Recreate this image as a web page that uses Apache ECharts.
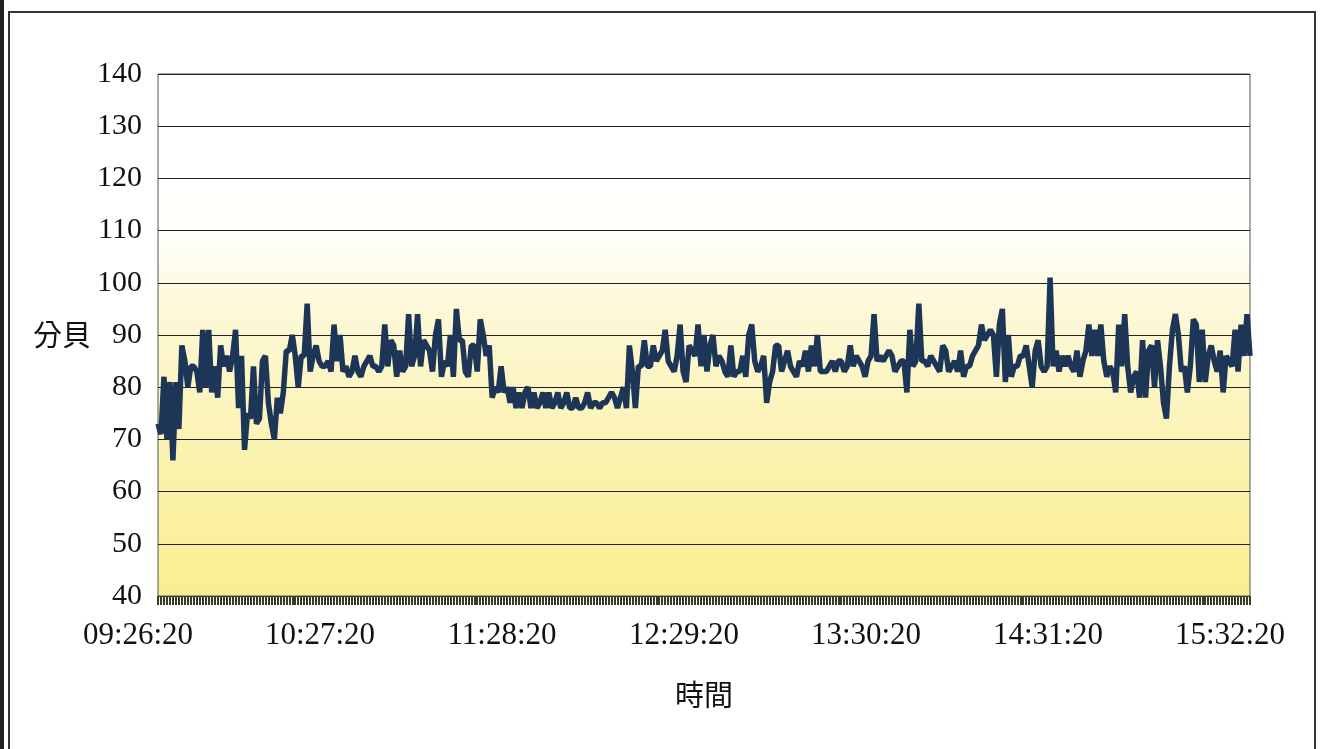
<!DOCTYPE html>
<html>
<head>
<meta charset="utf-8">
<script src="https://cdn.jsdelivr.net/npm/echarts@6/dist/echarts.min.js"></script>
<style>
  html, body { margin: 0; padding: 0; background: #fff; }
  #noise-chart { width: 1328px; height: 749px; }
</style>
</head>
<body>
<div id="noise-chart"></div>
<script>
// readings, one per minute, split by stretch of the day
const levelsA = [
  73, 71, 82, 70, 81, 66, 81, 72, 88, 85, 80, 84, 84, 83, 79, 91, 80, 91, 79, 84,
  78, 88, 84, 86, 83, 86, 91, 76, 86, 68, 75, 74, 84, 73, 74, 85, 86, 77, 73, 70,
  78, 75, 79, 87, 87, 90, 86, 80, 86, 86, 96, 83, 86, 88, 85, 84, 84, 85, 83, 92,
  85, 90, 83, 84, 82, 83, 86, 83, 82, 84, 85, 86, 84,
];
const levelsB = [
  84, 83, 84, 92, 84, 89, 88, 82, 87, 83, 84, 94, 84, 86, 94, 84, 89, 88, 87, 83,
  90, 93, 82, 85, 84, 90, 82, 95, 89, 89, 83, 82, 88, 88, 83, 93, 90, 86, 88, 78,
  80, 79, 84, 79, 80, 77, 80, 76, 79, 76, 79, 80, 76, 79, 76, 77, 79, 76, 79, 76,
  77, 79, 76, 77, 79, 76, 76, 78, 76, 76, 77, 79, 76, 77,
];
const levelsC = [
  77, 76, 77, 77, 78, 79, 78, 76, 78, 80, 76, 88, 83, 76, 84, 84, 89, 84, 84, 88,
  85, 86, 87, 91, 85, 84, 83, 86, 92, 83, 81, 88, 87, 86, 92, 84, 90, 83, 88, 90,
  84, 86, 85, 83, 82, 88, 82, 83, 83, 86, 82, 90, 92, 85, 83, 84, 86, 77, 81, 83,
  88, 88, 83, 85, 87, 84, 83, 82, 85, 84, 87, 83, 88, 84,
];
const levelsD = [
  90, 83, 83, 83, 84, 85, 83, 85, 85, 83, 84, 88, 84, 86, 85, 84, 82, 85, 86, 94,
  85, 86, 85, 86, 87, 86, 83, 84, 85, 85, 79, 91, 84, 85, 96, 85, 85, 84, 86, 85,
  84, 83, 88, 87, 83, 84, 85, 83, 87, 82, 84, 84, 86, 87, 88, 92, 89, 90, 91, 90,
  82, 92, 95, 81, 90, 82, 84, 84, 86, 86, 88, 84, 80, 87,
];
const levelsE = [
  89, 84, 83, 84, 101, 84, 87, 83, 86, 84, 86, 84, 83, 87, 82, 85, 87, 92, 86, 91,
  86, 92, 85, 82, 84, 83, 79, 92, 84, 94, 84, 79, 82, 83, 78, 89, 78, 87, 88, 80,
  89, 84, 77, 74, 84, 91, 94, 90, 83, 84, 79, 84, 93, 92, 81, 91, 81, 86, 88, 85,
  83, 87, 79, 86, 85, 84, 91, 83, 92, 86, 94, 86,
];
const decibels = levelsA.concat(levelsB, levelsC, levelsD, levelsE);

const tickLabels = ["09:26:20", "10:27:20", "11:28:20", "12:29:20", "13:30:20", "14:31:20", "15:32:20"];

// one category per minute starting at 09:26:20
const pad2 = (n) => (n < 10 ? "0" + n : "" + n);
const times = [];
for (let i = 0; i < decibels.length; i++) {
  const m = 9 * 60 + 26 + i;
  times.push(pad2(Math.floor(m / 60)) + ":" + pad2(m % 60) + ":20");
}

const noiseChart = echarts.init(document.getElementById("noise-chart"));
let option = {
  animation: false,
  backgroundColor: "#fff",
  graphic: [
    {
      type: "rect",
      shape: { x: 9, y: 12, width: 1306, height: 760 },
      style: { fill: "none", stroke: "#333", lineWidth: 2 },
    },
    {
      type: "rect",
      shape: { x: 0, y: 0, width: 4, height: 749 },
      style: { fill: "#222" },
    },
  ],
  grid: {
    left: 158,
    right: 78,
    top: 74,
    bottom: 153,
    show: true,
    borderColor: "#555",
    borderWidth: 1,
    backgroundColor: new echarts.graphic.LinearGradient(0, 0, 0, 1, [
      { offset: 0, color: "#ffffff" },
      { offset: 0.3, color: "#fffffc" },
      { offset: 0.45, color: "#fdf8d8" },
      { offset: 0.7, color: "#fbf3b4" },
      { offset: 1, color: "#f9ee8e" },
    ]),
  },
  xAxis: {
    type: "category",
    data: times,
    boundaryGap: false,
    name: "時間",
    nameLocation: "middle",
    nameGap: 84,
    nameTextStyle: {
      color: "#111",
      fontFamily: "Noto Sans CJK TC",
      fontSize: 29,
    },
    axisLine: {
      lineStyle: { color: "#3a3a30", width: 1 },
    },
    axisTick: {
      show: true,
      interval: 0,
      length: 9,
      lineStyle: { color: "#3b3b2c", width: 2 },
    },
    axisLabel: {
      interval: (index, value) => tickLabels.includes(value),
      color: "#111",
      fontFamily: "Liberation Serif",
      fontSize: 31,
      margin: 24,
      padding: [0, 40, 0, 0],
    },
    splitLine: { show: false },
  },
  yAxis: {
    type: "value",
    min: 40,
    max: 140,
    interval: 10,
    name: "分貝",
    nameLocation: "middle",
    nameRotate: 0,
    nameGap: 66,
    nameTextStyle: {
      color: "#111",
      fontFamily: "Noto Sans CJK TC",
      fontSize: 29,
    },
    axisLine: { show: false },
    axisTick: { show: false },
    axisLabel: {
      color: "#111",
      fontFamily: "Liberation Serif",
      fontSize: 30,
      margin: 16,
    },
    splitLine: {
      lineStyle: { color: "#222", width: 1 },
    },
  },
  series: {
    name: "分貝",
    type: "line",
    data: decibels,
    symbol: "none",
    lineStyle: { color: "#1d3658", width: 5.5 },
  },
};

noiseChart.setOption(option);
</script>
</body>
</html>
